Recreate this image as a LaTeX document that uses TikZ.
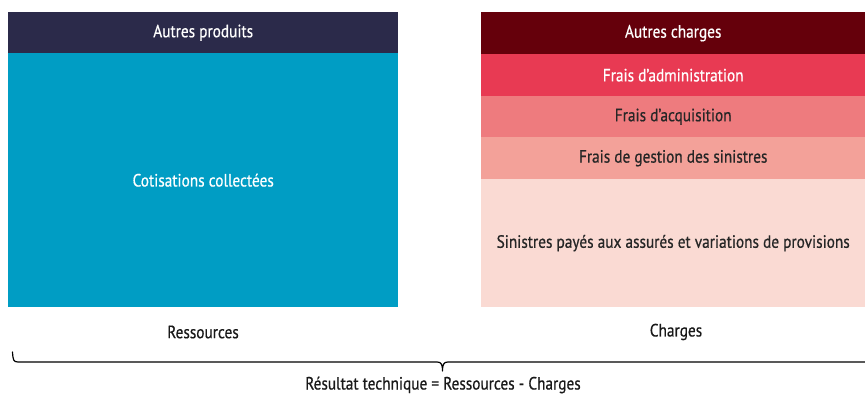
\documentclass[tikz,border=0pt]{standalone}
\usepackage{fontspec}
\setmainfont{PT Sans}[FakeStretch=0.86,FakeBold=0.6]
\definecolor{navy}{HTML}{2B2A4A}
\definecolor{cyanb}{HTML}{009DC4}
\definecolor{dred}{HTML}{65000B}
\definecolor{redA}{HTML}{E83A53}
\definecolor{redB}{HTML}{EE7B7E}
\definecolor{redC}{HTML}{F3A199}
\definecolor{redD}{HTML}{FADAD3}
\tikzset{
  band/.style={draw=none, inner sep=0pt, anchor=north west, font=\fontsize{17.8}{20}\selectfont},
  lbl/.style={inner sep=0pt, font=\fontsize{17.8}{20}\selectfont, text=black!90},
  bracestyle/.style={line width=1.2pt, line cap=round, line join=round}
}
\begin{document}
\begin{tikzpicture}[x=1pt,y=-1pt]
\useasboundingbox (0,0) rectangle (865,395);
% left column
\node[band, fill=navy, text=white, minimum width=390pt, minimum height=41pt] (ap) at (8,12) {Autres produits};
\node[band, fill=cyanb, text=white, minimum width=390pt, minimum height=254pt] (cc) at (8,53) {Cotisations collectées};
% right column
\node[band, fill=dred, text=white, minimum width=384pt, minimum height=42pt] (ac) at (481,12) {Autres charges};
\node[band, fill=redA, text=white, minimum width=384pt, minimum height=42pt] (fa) at (481,54) {Frais d’administration};
\node[band, fill=redB, text=black!85, minimum width=384pt, minimum height=41pt] (fq) at (481,96) {Frais d’acquisition};
\node[band, fill=redC, text=black!85, minimum width=384pt, minimum height=42pt] (fg) at (481,137) {Frais de gestion des sinistres};
\node[band, fill=redD, text=black!85, minimum width=384pt, minimum height=128pt] (sp) at (481,179) {Sinistres payés aux assurés et variations de provisions};
% labels
\node[lbl] (res) at (203,332) {Ressources};
\node[lbl] (chg) at (676,332) {Charges};
% brace
\coordinate (bl) at (12.5,352);
\coordinate (bt) at (442.5,371);
\coordinate (br) at (868,362);
\draw[bracestyle] (bl) .. controls (13,360) and (13.5,362) .. (18,362) -- (437,362)
  .. controls (441,362) and (442.5,364) .. (bt)
  .. controls (442.5,364) and (444,362) .. (448,362) -- (br);
\node[lbl] (rt) at (443,385) {Résultat technique = Ressources - Charges};
\end{tikzpicture}
\end{document}
